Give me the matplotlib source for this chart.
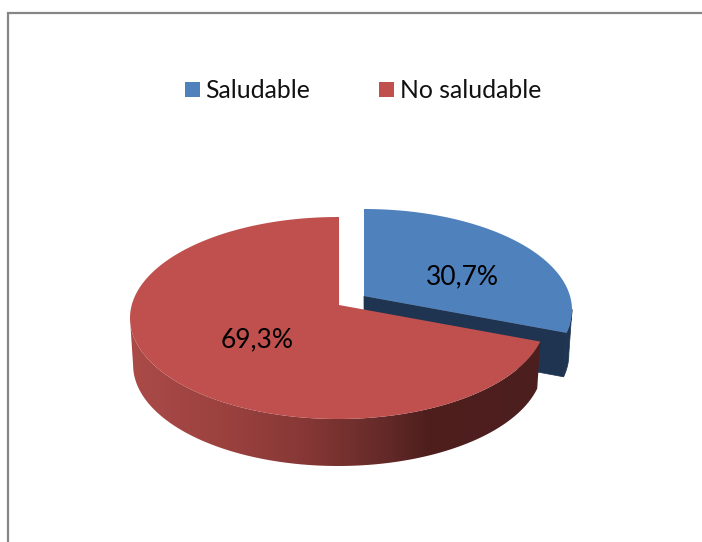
#!/usr/bin/env python3
import numpy as np
import matplotlib
matplotlib.use("Agg")
import matplotlib.pyplot as plt
from matplotlib.patches import Polygon, Rectangle
from matplotlib.colors import LinearSegmentedColormap

categories = ["Saludable", "No saludable"]
values = [30.7, 69.3]
value_labels = ["30,7%", "69,3%"]

BLUE = "#4F81BD"
BLUE_DARK = "#1F3450"
RED = "#BF504D"
FRAME = "#868686"

# ── geometry, in image pixels ───────────────────────────────────────────────
W, H = 702, 542
RX, RY = 208, 101
K = RY / RX
BOTTOM_SCALE = 0.985


def rim(angles, apex, centre):
    # ray from the apex (tilted pie plane) up to the ellipse of the pie edge
    pts = []
    for a in np.radians(angles):
        dx, dy = np.cos(a), -K * np.sin(a)
        ox, oy = (apex[0] - centre[0]) / RX, (apex[1] - centre[1]) / RY
        ux, uy = dx / RX, dy / RY
        A = ux * ux + uy * uy
        B = 2 * (ox * ux + oy * uy)
        C = ox * ox + oy * oy - 1
        t = (-B + np.sqrt(B * B - 4 * A * C)) / (2 * A)
        pts.append((apex[0] + t * dx, apex[1] + t * dy))
    return np.array(pts)


def lowered(pts, centre, depth):
    out = np.array(pts, dtype=float)
    out[:, 0] = centre[0] + (out[:, 0] - centre[0]) * BOTTOM_SCALE
    out[:, 1] = out[:, 1] + depth
    return out


plt.rcParams["font.family"] = ["Lato", "DejaVu Sans"]

fig = plt.figure(figsize=(W / 100, H / 100), dpi=100)
ax = fig.add_axes([0, 0, 1, 1])
ax.axis("off")

# chart frame, runs off the right and bottom of the crop
ax.add_patch(Rectangle((8, 12.5), W + 20, H + 20, fc="white", ec=FRAME, lw=1.6))

spans = [v / sum(values) * 360 for v in values]
split = 90 - spans[0]

# ── blue slice (pulled out) ─────────────────────────────────────────────────
b_apex, b_centre = (364, 296), (364, 310)
b_rim = rim(np.linspace(90, split, 120), b_apex, b_centre)
b_low = lowered(b_rim, b_centre, 44)
side_from = np.argmax(b_rim[:, 0])
wall = np.vstack([b_rim[side_from:], b_low[side_from:][::-1]])
ax.add_patch(Polygon(wall, fc=BLUE_DARK, ec=BLUE_DARK, lw=0.5, zorder=2))
cut = np.array([b_apex, b_rim[-1], b_low[-1], lowered([b_apex], b_centre, 44)[0]])
ax.add_patch(Polygon(cut, fc=BLUE_DARK, ec=BLUE_DARK, lw=0.5, zorder=2))
ax.add_patch(Polygon(np.vstack([[b_apex], b_rim]), fc=BLUE, ec="none", zorder=3))

# ── red slice ───────────────────────────────────────────────────────────────
r_apex, r_centre = (339, 305), (338, 318)
r_rim = rim(np.linspace(90, 90 + spans[1], 300), r_apex, r_centre)
# only the part of the edge from the leftmost point on faces the viewer
front_pts = r_rim[np.argmin(r_rim[:, 0]):]
low_pts = lowered(front_pts, r_centre, 47)
wall = Polygon(np.vstack([front_pts, low_pts[::-1]]), fc="none", ec="none", zorder=4)
ax.add_patch(wall)

shade = LinearSegmentedColormap.from_list(
    "wall",
    [(0.0, "#AB4B48"), (0.24, "#9A413E"), (0.42, "#873836"),
     (0.62, "#642A28"), (0.72, "#4F1F1E"), (1.0, "#4C1E1D")],
)
grad = ax.imshow(
    np.linspace(0, 1, 256)[None, :], cmap=shade, vmin=0, vmax=1, aspect="auto",
    extent=(front_pts[:, 0].min(), front_pts[:, 0].max(), low_pts[:, 1].max(), r_centre[1] - 5),
    zorder=4,
)
grad.set_clip_path(wall)
ax.add_patch(Polygon(np.vstack([[r_apex], r_rim]), fc=RED, ec="none", zorder=5))

ax.set_xlim(0, W)
ax.set_ylim(H, 0)

# ── value labels ────────────────────────────────────────────────────────────
ax.text(462, 277, value_labels[0], ha="center", va="center", fontsize=19, color="black", zorder=6)
ax.text(257, 340, value_labels[1], ha="center", va="center", fontsize=19, color="black", zorder=6)

# ── legend ──────────────────────────────────────────────────────────────────
for x0, tx, name, col in [(185, 205.5, categories[0], BLUE), (379, 400.5, categories[1], RED)]:
    ax.add_patch(Rectangle((x0, 82), 15, 15, fc=col, ec="none"))
    ax.text(tx, 90.5, name, ha="left", va="center", fontsize=17.8, color="#111111")

fig.savefig("out.png", dpi=100)
